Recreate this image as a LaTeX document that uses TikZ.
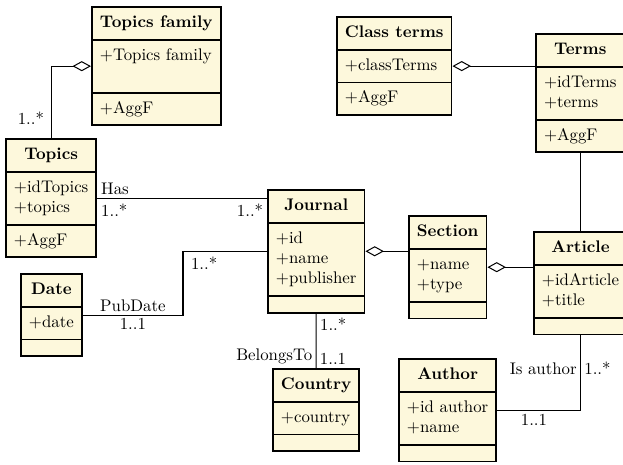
\documentclass[tikz,border=0pt]{standalone}
\usetikzlibrary{shapes.multipart,arrows.meta,calc}

\definecolor{classfill}{RGB}{253,248,220}

\tikzset{
    umlclass/.style={rectangle split, rectangle split parts=3,
        rectangle split part align={center,left,left}, align=left,
        draw, line width=1.1pt, fill=classfill, anchor=north west,
        inner xsep=4.8pt, inner ysep=3.2pt},
    assoc/.style={line width=0.6pt},
    aggr/.style={assoc, -{Diamond[open, length=11pt, width=6pt, line width=0.6pt]}},
    mult/.style={font=\normalsize, inner sep=2pt}
}
% one line of a class compartment
\newcommand{\attr}[1]{\strut#1}
\newcommand{\noops}{\rule{0pt}{2.5pt}}

\begin{document}
\begin{tikzpicture}[x=0.595pt, y=-0.595pt]
    \useasboundingbox (0,0) rectangle (623,464);

    % classes
    \node[umlclass] (topicsfamily) at (91,6)
        {\attr{\textbf{Topics family}}
         \nodepart{two}\attr{+Topics family}\\\attr{}
         \nodepart{three}\attr{+AggF}};
    \node[umlclass] (classterms) at (336,16)
        {\attr{\textbf{Class terms}}
         \nodepart{two}\attr{+classTerms}
         \nodepart{three}\attr{+AggF}};
    \node[umlclass] (terms) at (535,33)
        {\attr{\textbf{Terms}}
         \nodepart{two}\attr{+idTerms}\\\attr{+terms}
         \nodepart{three}\attr{+AggF}};
    \node[umlclass] (topics) at (5,138)
        {\attr{\textbf{Topics}}
         \nodepart{two}\attr{+idTopics}\\\attr{+topics}
         \nodepart{three}\attr{+AggF}};
    \node[umlclass] (journal) at (267,189)
        {\attr{\textbf{Journal}}
         \nodepart{two}\attr{+id}\\\attr{+name}\\\attr{+publisher}
         \nodepart{three}\noops};
    \node[umlclass] (section) at (408,215)
        {\attr{\textbf{Section}}
         \nodepart{two}\attr{+name}\\\attr{+type}
         \nodepart{three}\noops};
    \node[umlclass] (article) at (533,231)
        {\attr{\textbf{Article}}
         \nodepart{two}\attr{+idArticle}\\\attr{+title}
         \nodepart{three}\noops};
    \node[umlclass] (date) at (20,273)
        {\attr{\textbf{Date}}
         \nodepart{two}\attr{+date}
         \nodepart{three}\noops};
    \node[umlclass] (country) at (272,368)
        {\attr{\textbf{Country}}
         \nodepart{two}\attr{+country}
         \nodepart{three}\noops};
    \node[umlclass] (author) at (398,358)
        {\attr{\textbf{Author}}
         \nodepart{two}\attr{+id author}\\\attr{+name}
         \nodepart{three}\noops};

    % aggregations
    \coordinate (tfamattr) at ($(topicsfamily.text split west)!.5!(topicsfamily.two split west)$);
    \draw[aggr] (topics.north) |- (tfamattr)
        node[pos=0.14, mult, left, xshift=-2pt] {1..*};
    \coordinate (ctermsattr) at ($(classterms.text split east)!.5!(classterms.two split east)$);
    \draw[aggr] (ctermsattr -| terms.west) -- (ctermsattr);
    \draw[aggr] (section.west |- journal.east) -- (journal.east);
    \draw[aggr] (article.west |- section.east) -- (section.east);

    % associations
    \draw[assoc] (terms.south) -- (terms.south |- article.north);
    \draw[assoc] (topics.east) -- (topics.east -| journal.west)
        node[pos=0, mult, above right] {Has}
        node[pos=0, mult, below right, yshift=-1pt] {1..*}
        node[pos=1, mult, below left, yshift=-1pt] {1..*};
    \coordinate (pubbend) at (183,0);
    \draw[assoc] (date.east) -| (pubbend |- journal.west) -- (journal.west)
        node[pos=0.05, mult, below right, yshift=-1pt] {1..*};
    \node[mult, above] at ($(date.east)!.5!(pubbend |- date.east)$) {PubDate};
    \node[mult, below] at ($(date.east)!.5!(pubbend |- date.east)$) {1..1};
    \draw[assoc] (journal.south) -- (country.north)
        node[pos=0, mult, below right] {1..*}
        node[pos=1, mult, above right] {1..1}
        node[pos=1, mult, above left] {BelongsTo};
    \draw[assoc] (author.east) -| (article.south)
        node[pos=0.22, mult, below] {1..1}
        node[pos=0.78, mult, left] {Is author}
        node[pos=0.78, mult, right] {1..*};
\end{tikzpicture}
\end{document}
